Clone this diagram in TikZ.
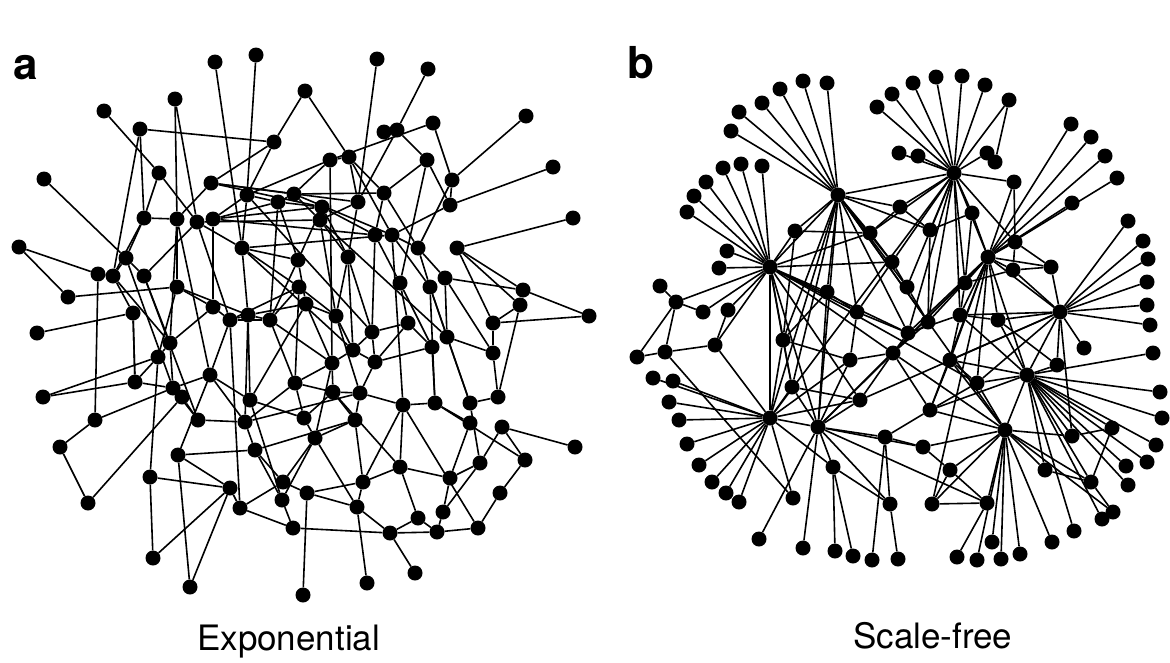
\documentclass[tikz,border=0pt]{standalone}
\usepackage{fontspec}
\setmainfont{TeX Gyre Heros}

\begin{document}
\begin{tikzpicture}[x=1pt,y=-1pt,
  dot/.style={circle,fill=black,inner sep=0pt,minimum size=15pt},
  link/.style={line width=1.6pt}]
\useasboundingbox (0,0) rectangle (1170,662);
% a: exponential network
\foreach \x/\y [count=\i] in {215/62,256/55,305/91,175/99,104/111,140/129,274/142,44/179,159/173,211/183,
  247/195,294/194,278/202,144/218,177/219,197/222,213/219,19/247,126/258,242/248,
  98/274,113/276,144/276,177/287,298/260,299/287,68/297,213/307,133/313,377/59,
  428/69,526/116,433/123,384/132,397/130,330/160,349/157,427/160,553/167,452/180,
  384/193,450/205,322/207,320/220,573/218,375/235,392/235,418/248,457/248,348/257,
  445/278,400/283,430/287,523/290,520/305,589/316,336/316,306/304,37/333,170/343,
  158/357,230/320,248/315,270/320,43/397,135/382,173/388,182/397,95/420,60/447,
  210/375,198/420,245/422,250/400,295/383,304/418,178/455,255/450,150/477,88/503,
  230/488,240/508,283/482,282/500,307/493,293/528,153/558,190/587,303/595,408/323,
  372/332,447/337,493/323,432/347,353/350,493/353,332/363,375/362,333/392,360/393,
  498/397,403/405,435/403,470/403,355/420,470/423,502/427,315/438,575/447,525/460,
  480/463,400/467,450/478,363/482,500/493,357/507,443/512,418/518,390/533,437/532,
  478/528,415/573,367/583,358/202}
  \node[dot] (a\i) at (\x,\y) {};
\foreach \u/\v in {1/20,2/11,3/7,3/37,4/16,4/15,5/9,9/16,6/7,6/22,8/19,18/21,18/27,27/24,7/11,7/10,
  10/12,30/124,31/35,32/40,33/36,33/40,34/35,35/38,35/124,39/42,45/49,40/42,42/47,38/42,36/37,
  36/12,51/54,54/56,93/56,109/107,110/107,110/115,115/121,121/120,119/120,122/119,123/116,89/85,
  55/101,59/29,65/61,69/21,69/67,70/69,70/80,80/68,79/61,79/81,87/81,88/81,81/77,81/82,86/84,
  66/29,60/61,14/15,14/22,13/17,13/12,11/17,11/20,12/44,13/43,15/24,16/20,16/23,17/28,19/23,
  19/22,20/25,20/26,21/22,22/29,23/60,24/28,24/61,25/43,25/58,26/57,26/62,28/62,28/60,29/66,
  37/41,37/47,38/41,41/46,41/48,43/46,44/50,44/124,46/52,47/53,48/53,48/51,49/54,49/55,50/57,
  50/91,52/90,53/92,55/93,57/95,58/63,58/97,62/71,63/74,64/75,64/26,66/67,67/71,68/72,71/74,
  72/73,73/78,74/76,75/99,75/76,76/108,77/78,78/83,82/83,83/85,84/108,85/114,86/119,90/94,
  90/98,91/95,92/96,92/104,93/96,94/103,95/97,96/101,97/99,98/100,99/105,100/102,101/104,
  102/112,103/106,104/111,105/108,105/114,106/113,107/111,108/116,111/113,112/118,113/117,
  114/116,117/120,118/120,112/114,102/103,94/98,91/98,10/15,10/43,9/14,6/14,63/64,62/63,65/66,
  73/75,84/78,60/67,88/77,87/79,12/47,17/46,24/63,11/91,44/92,36/97,47/102,13/64,15/71,20/95,
  23/72,73/100,78/105,99/112,102/121,103/110,51/96,53/104,49/93,38/52,40/48,124/50,124/37,
  58/74,57/100,26/75,64/97,62/82,74/84,71/77,19/67,22/60,
  10/124,17/43,16/44,20/47,11/36,12/41,43/50,46/91,47/48,50/95,52/94,53/103,51/92,90/91,95/98,
  97/108,99/100,100/105,102/114,111/117,112/113,116/119,118/119,62/64,63/73,71/73,67/72,
  61/66,14/19,15/60,16/62,20/63,25/64,57/58,44/57,13/25,11/13,75/97,76/99,85/116,83/108,82/86}
  \draw[link] (a\u)--(a\v);
% b: scale-free network
\foreach \x/\y [count=\i] in {838/195,770/267,954/173,988/257,1060/312,770/418,818/427,1027/375,1005/430,676/302,
  900/207,870/233,892/262,930/230,972/213,1015/242,1051/267,1013/270,965/283,907/287,
  827/292,795/231,857/312,783/340,792/387,928/322,960/315,998/320,908/333,893/353,
  977/383,930/410,923/447,885/437,833/467,890/504,932/504,987/503,1072/436,1112/428,
  1091/482,1084/348,1057/365,1045/470,1014/182,995/162,987/153,728/310,715/345,703/312,
  850/360,950/360,860/400,950/470,803/81,827/83,780/89,762/103,739/112,731/131,
  723/168,741/164,762/166,706/182,694/196,687/212,727/251,719/268,660/286,892/94,
  913/83,936/77,962/76,985/85,1009/100,877/107,899/153,918/156,1071/124,1091/137,
  1105/156,1117/178,1072/203,1128/221,1143/241,1148/259,1147/282,1147/305,1150/325,1153/353,
  1160/392,1162/418,1156/445,1147/462,1126/466,1128/485,1113/512,1102/519,1074/531,1052/542,
  1020/554,1001/559,977/560,957/557,992/542,898/559,637/357,665/352,653/378,673/381,
  669/402,679/420,687/444,699/465,712/482,726/493,739/502,759/539,803/548,835/551,
  853/556,872/560,793/498}
  \node[dot] (b\i) at (\x,\y) {};
\foreach \u/\v in {55/1,56/1,57/1,58/1,59/1,60/1,61/2,62/2,63/2,64/2,65/2,66/2,67/2,68/2,
  69/10,107/10,108/10,107/108,108/49,70/3,71/3,72/3,73/3,74/3,75/3,75/46,76/3,77/3,78/3,
  79/4,80/4,81/4,82/4,83/4,84/5,85/5,86/5,87/5,88/5,89/5,90/8,91/8,92/8,93/8,94/8,95/8,
  96/8,97/9,98/8,99/8,100/9,101/9,102/9,103/9,104/38,105/9,106/36,109/6,110/6,111/6,112/6,
  113/6,114/6,115/6,116/6,117/6,123/6,118/7,119/7,120/35,121/35,122/34,
  1/2,1/3,1/22,1/11,1/12,1/13,1/21,1/24,1/20,1/14,1/26,1/7,1/25,1/6,
  2/22,2/21,2/24,2/6,2/7,2/10,2/48,2/50,2/49,2/12,2/23,2/25,2/13,2/29,
  3/11,3/14,3/15,3/12,3/47,3/45,3/19,3/20,3/4,3/26,3/16,3/13,
  4/15,4/16,4/17,4/18,4/19,4/45,4/27,4/28,4/5,4/8,4/31,4/29,4/26,4/32,4/37,
  5/17,5/28,5/42,5/43,5/8,5/18,5/39,5/27,5/31,8/39,8/40,8/41,8/43,8/31,8/28,8/9,8/52,8/32,
  9/31,9/33,9/37,9/38,9/54,9/32,9/39,9/41,9/52,6/24,6/25,6/7,6/49,6/35,6/53,
  7/25,7/35,7/34,7/53,7/51,7/36,7/21,7/33,7/38,10/50,23/51,23/29,24/51,26/30,27/52,29/30,
  30/51,30/53,31/52,32/34,33/54,34/36,35/36,37/54,38/54,12/22,13/20,11/14,14/15,16/17,18/19,
  19/27,20/26,21/23,24/25,28/43,39/40,40/41,41/97,46/47,45/16,48/49,52/32,53/25,29/27,37/38,
  30/32,33/34,44/9,44/8,44/41,108/123,3/6,4/7,1/9,2/31,5/53,
  1/23,1/29,2/53,2/30,3/27,3/29,4/30,4/52,5/52,8/27,9/30,6/51,7/30,21/24,22/24,12/13,13/23,
  14/26,15/19,16/18,17/18,27/28,31/32,11/12}
  \draw[link] (b\u)--(b\v);
% labels
\node[font=\fontsize{44}{48}\selectfont\bfseries] (lblA) at (26,68) {a};
\node[font=\fontsize{44}{48}\selectfont\bfseries] (lblB) at (641,63) {b};
\node[font=\fontsize{35}{40}\selectfont,anchor=base west,inner sep=0pt] (capA) at (197,650) {Exponential};
\node[font=\fontsize{35}{40}\selectfont,anchor=base west,inner sep=0pt] (capB) at (853,648) {Scale-free};
\end{tikzpicture}
\end{document}
